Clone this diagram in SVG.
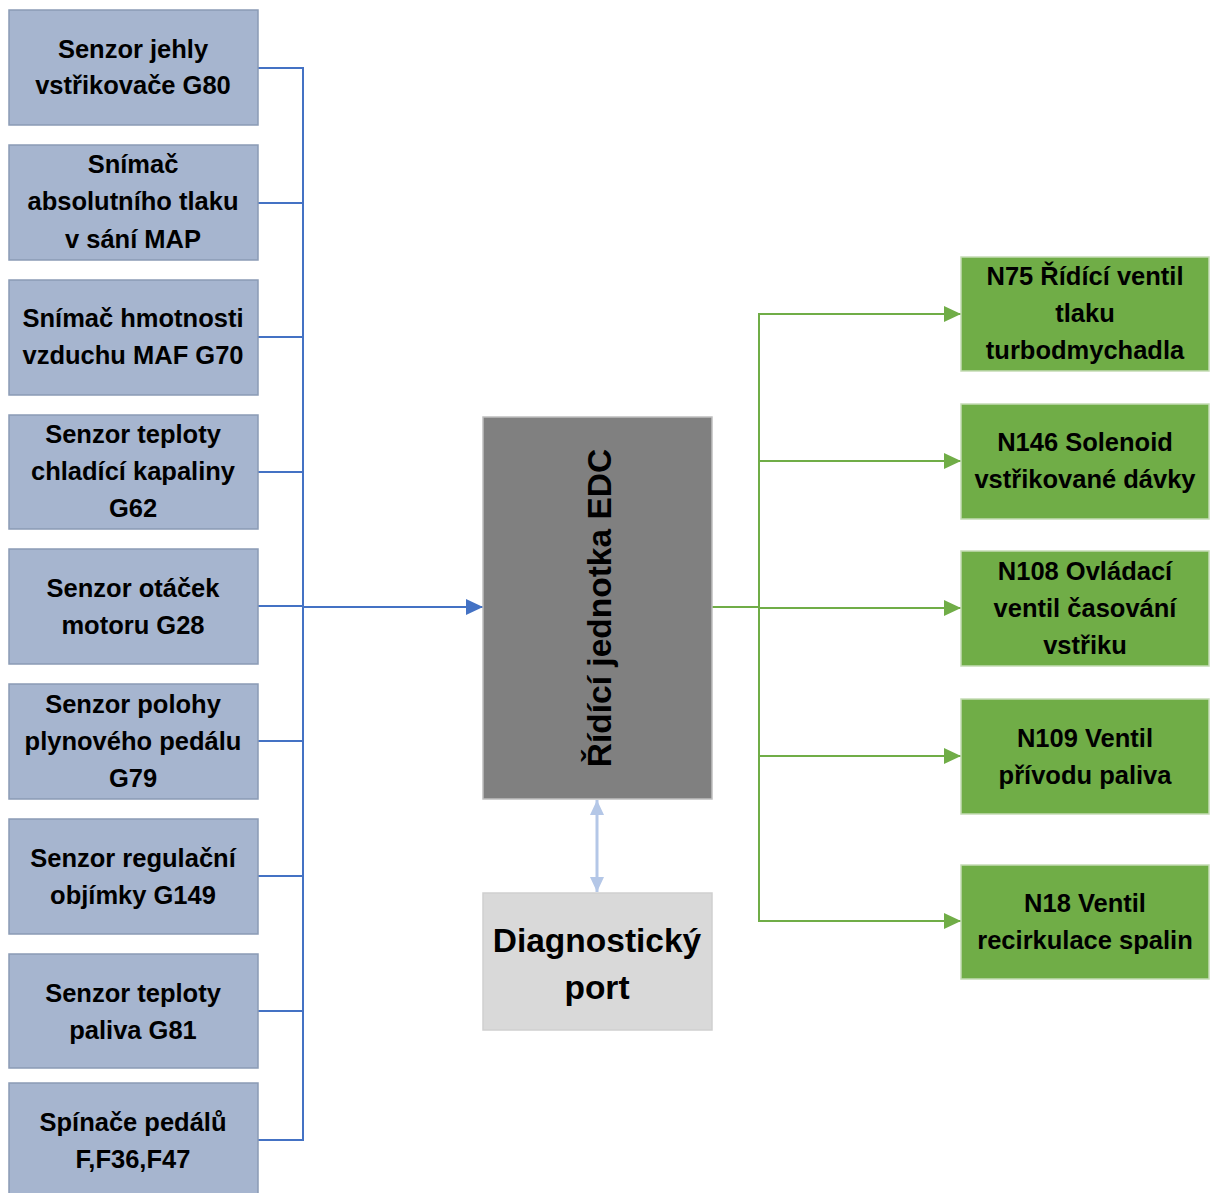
<svg xmlns="http://www.w3.org/2000/svg" width="1219" height="1193" viewBox="0 0 1219 1193">
<style>
text{font-family:"Liberation Sans",Arial,sans-serif;font-weight:bold;fill:#000;text-anchor:middle}
.s{fill:#a6b5cf;stroke:#8a9bb5;stroke-width:1.5}
.a{fill:#70ad47;stroke:#c5dcb5;stroke-width:1.5}
.t{font-size:25.5px}
.b{fill:none;stroke:#4472c4;stroke-width:2}
.g{fill:none;stroke:#70ad47;stroke-width:2}
</style>
<defs>
<marker id="mb" markerUnits="userSpaceOnUse" markerWidth="18" markerHeight="16" refX="17" refY="8" orient="auto"><path d="M0,0 L17,8 L0,16 Z" fill="#4472c4"/></marker>
<marker id="mg" markerUnits="userSpaceOnUse" markerWidth="18" markerHeight="16" refX="17" refY="8" orient="auto"><path d="M0,0 L17,8 L0,16 Z" fill="#70ad47"/></marker>
<marker id="ml" markerUnits="userSpaceOnUse" markerWidth="16" markerHeight="16" refX="15" refY="8" orient="auto-start-reverse"><path d="M0,1 L15,8 L0,15 Z" fill="#b4c7e7"/></marker>
</defs>
<g id="connectors">
<path class="b" d="M258,68 H303 M258,203 H303 M258,337 H303 M258,472 H303 M258,606 H303 M258,741 H303 M258,876 H303 M258,1011 H303 M258,1140 H303 M303,67 V1141"/>
<path class="b" d="M303,607 H483" stroke-width="2.5" marker-end="url(#mb)"/>
<path class="g" d="M712,607 H759 M759,313 V922"/>
<path class="g" d="M759,314 H961" marker-end="url(#mg)"/>
<path class="g" d="M759,461 H961" marker-end="url(#mg)"/>
<path class="g" d="M759,608 H961" marker-end="url(#mg)"/>
<path class="g" d="M759,756 H961" marker-end="url(#mg)"/>
<path class="g" d="M759,921 H961" marker-end="url(#mg)"/>
<path d="M597,800 V892" fill="none" stroke="#b4c7e7" stroke-width="3" marker-start="url(#ml)" marker-end="url(#ml)"/>
</g>
<g id="s1"><rect class="s" x="9" y="10" width="249" height="115"/><text class="t" x="133" y="58">Senzor jehly</text><text class="t" x="133" y="94">vstřikovače G80</text></g>
<g id="s2"><rect class="s" x="9" y="145" width="249" height="115"/><text class="t" x="133" y="173">Snímač</text><text class="t" x="133" y="210">absolutního tlaku</text><text class="t" x="133" y="248">v sání MAP</text></g>
<g id="s3"><rect class="s" x="9" y="280" width="249" height="115"/><text class="t" x="133" y="327">Snímač hmotnosti</text><text class="t" x="133" y="364">vzduchu MAF G70</text></g>
<g id="s4"><rect class="s" x="9" y="415" width="249" height="114"/><text class="t" x="133" y="443">Senzor teploty</text><text class="t" x="133" y="480">chladící kapaliny</text><text class="t" x="133" y="517">G62</text></g>
<g id="s5"><rect class="s" x="9" y="549" width="249" height="115"/><text class="t" x="133" y="597">Senzor otáček</text><text class="t" x="133" y="634">motoru G28</text></g>
<g id="s6"><rect class="s" x="9" y="684" width="249" height="115"/><text class="t" x="133" y="713">Senzor polohy</text><text class="t" x="133" y="750">plynového pedálu</text><text class="t" x="133" y="787">G79</text></g>
<g id="s7"><rect class="s" x="9" y="819" width="249" height="115"/><text class="t" x="133" y="867">Senzor regulační</text><text class="t" x="133" y="904">objímky G149</text></g>
<g id="s8"><rect class="s" x="9" y="954" width="249" height="114"/><text class="t" x="133" y="1002">Senzor teploty</text><text class="t" x="133" y="1039">paliva G81</text></g>
<g id="s9"><rect class="s" x="9" y="1083" width="249" height="115"/><text class="t" x="133" y="1131">Spínače pedálů</text><text class="t" x="133" y="1168">F,F36,F47</text></g>
<g id="edc"><rect x="483" y="417" width="229" height="382" fill="#808080" stroke="#bfbfbf" stroke-width="1.5"/><text transform="translate(611,608) rotate(-90)" x="0" y="0" font-size="33.5">Řídící jednotka EDC</text></g>
<g id="diag"><rect x="483" y="893" width="229" height="137" fill="#d9d9d9" stroke="#cfcfcf" stroke-width="1.5"/><text x="597" y="952" font-size="33.5">Diagnostický</text><text x="597" y="999" font-size="33.5">port</text></g>
<g id="a1"><rect class="a" x="961" y="257" width="248" height="114"/><text class="t" x="1085" y="285">N75 Řídící ventil</text><text class="t" x="1085" y="322">tlaku</text><text class="t" x="1085" y="359">turbodmychadla</text></g>
<g id="a2"><rect class="a" x="961" y="404" width="248" height="115"/><text class="t" x="1085" y="451">N146 Solenoid</text><text class="t" x="1085" y="488">vstřikované dávky</text></g>
<g id="a3"><rect class="a" x="961" y="551" width="248" height="115"/><text class="t" x="1085" y="580">N108 Ovládací</text><text class="t" x="1085" y="617">ventil časování</text><text class="t" x="1085" y="654">vstřiku</text></g>
<g id="a4"><rect class="a" x="961" y="699" width="248" height="115"/><text class="t" x="1085" y="747">N109 Ventil</text><text class="t" x="1085" y="784">přívodu paliva</text></g>
<g id="a5"><rect class="a" x="961" y="865" width="248" height="114"/><text class="t" x="1085" y="912">N18 Ventil</text><text class="t" x="1085" y="949">recirkulace spalin</text></g>
</svg>
